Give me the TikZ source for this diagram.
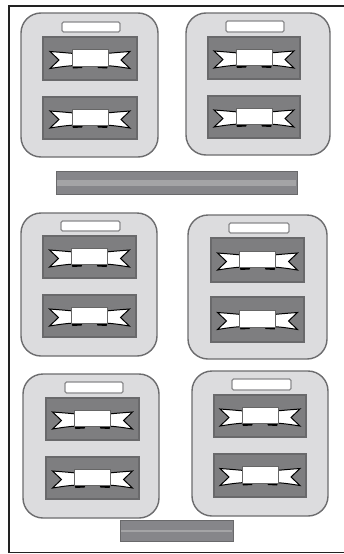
\documentclass[tikz,border=0pt]{standalone}
\usetikzlibrary{calc}
\definecolor{panelfill}{HTML}{DCDCDE}
\definecolor{panelline}{HTML}{6C6C6E}
\definecolor{innerfill}{HTML}{7E7E80}
\definecolor{innerline}{HTML}{69696B}
\definecolor{barfill}{HTML}{86868A}
\definecolor{barstrip}{HTML}{A4A4A6}
\definecolor{labelline}{HTML}{8A8A8C}
\definecolor{framecol}{HTML}{222222}
\tikzset{
  panelbox/.style={fill=panelfill,draw=panelline,line width=1.4pt,rounded corners=20pt},
  innerbox/.style={fill=innerfill,draw=innerline,line width=1.2pt},
  labelbox/.style={fill=white,draw=labelline,line width=1.1pt,rounded corners=1.5pt},
  barbox/.style={fill=barfill,draw=innerline,line width=1pt},
  wing/.style={fill=white,draw=black,line width=1pt,line join=miter},
  ribcenter/.style={fill=white,draw=black!60,line width=0.6pt},
  ribbon/.pic={
    \filldraw[wing] (-16,-5) .. controls (-27,-6) .. (-40,-7) -- (-31,1.5) -- (-40,10) .. controls (-27,8) .. (-16,7) -- cycle;
    \filldraw[wing] (16,-5) .. controls (27,-6) .. (40,-7) -- (31,1.5) -- (40,10) .. controls (27,8) .. (16,7) -- cycle;
    \fill[black] (-18,7) -- (-7,7) -- (-8,9.5) -- (-17,10) -- cycle;
    \fill[black] (18,7) -- (7,7) -- (8,9.5) -- (17,10) -- cycle;
    \filldraw[ribcenter] (-18,-9) rectangle (18,7.5);
  }
}
\newcommand\drawer[4]{% #1,#2 = top-left; #3,#4 = bottom-right
  \draw[innerbox] (#1,#2) rectangle (#3,#4);
  \pic at ({(#1+#3)/2},{(#2+#4)/2}) {ribbon};
}
\begin{document}
\begin{tikzpicture}[x=1pt,y=-1pt]
\useasboundingbox (0,0) rectangle (343,554);
\fill[white] (0,0) rectangle (343,554);
% frame
\draw[framecol,line width=1.5pt] (350,6) -- (9,6) -- (9,552.5) -- (350,552.5);
% panel 1
\draw[panelbox] (21,13) rectangle (158,157);
\draw[labelbox] (62,22) rectangle (120,32);
\drawer{43}{37}{137}{80}
\drawer{43}{97}{137}{139}
% panel 2
\draw[panelbox] (186,13) rectangle (330,155);
\draw[labelbox] (226,21) rectangle (284,32);
\drawer{208}{37}{300}{79}
\drawer{208}{96}{300}{138}
% bar 1
\draw[barbox] (56,171) rectangle (297,194);
\fill[barstrip] (57,180) rectangle (296,186);
% panel 3
\draw[panelbox] (21,213) rectangle (157,356);
\draw[labelbox] (61,221) rectangle (120,231);
\drawer{43}{236}{136}{278}
\drawer{43}{295}{136}{337}
% panel 4
\draw[panelbox] (188,215) rectangle (327,359);
\draw[labelbox] (229,223) rectangle (289,233);
\drawer{211}{238}{304}{282}
\drawer{211}{297}{304}{342}
% panel 5
\draw[panelbox] (23,374) rectangle (159,518);
\draw[labelbox] (65,382) rectangle (123,393);
\drawer{46}{398}{139}{440}
\drawer{46}{457}{139}{499}
% panel 6
\draw[panelbox] (192,371) rectangle (328,516);
\draw[labelbox] (232,379) rectangle (291,390);
\drawer{214}{395}{306}{437}
\drawer{214}{454}{306}{497}
% bar 2
\draw[barbox] (120,520) rectangle (233,541);
\fill[barstrip] (121,529.5) rectangle (232,531.5);
\end{tikzpicture}
\end{document}
